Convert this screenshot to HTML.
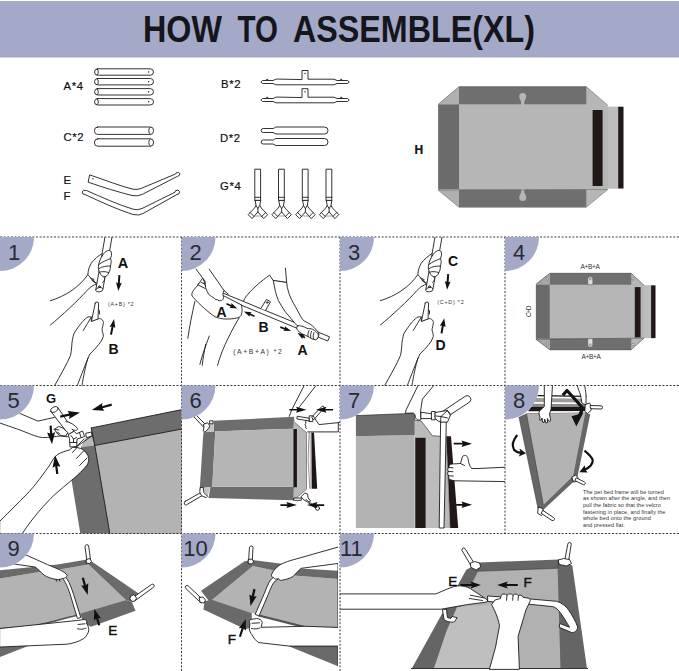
<!DOCTYPE html>
<html><head><meta charset="utf-8">
<title>How to assemble (XL)</title>
<style>
html,body{margin:0;padding:0;background:#fff;}
body{width:679px;height:671px;overflow:hidden;font-family:"Liberation Sans",sans-serif;}
svg{display:block}
text{font-family:"Liberation Sans",sans-serif;}
.ln{fill:none;stroke:#1c1c1c;stroke-width:0.9;stroke-linecap:round;stroke-linejoin:round}
.lw{fill:#fff;stroke:#1c1c1c;stroke-width:0.9;stroke-linecap:round;stroke-linejoin:round}
.dot{fill:none;stroke:#3a3a3a;stroke-width:1;stroke-dasharray:2 1.6}
.num{font-size:22px;fill:#2a2a33}
.lbl{font-size:13px;font-weight:bold;fill:#111}
.big{font-size:17px;font-weight:bold;fill:#111}
</style></head><body>
<svg width="679" height="671" viewBox="0 0 679 671">
<rect width="679" height="671" fill="#fff"/>
<!-- HEADER -->
<g id="header">
<rect x="0" y="1" width="679" height="56.5" fill="#a4a9c8"/>
<text y="41.800" font-size="36" font-weight="bold" fill="#15151c"><tspan x="143" textLength="79" lengthAdjust="spacingAndGlyphs">HOW</tspan><tspan x="237.500" textLength="40.500" lengthAdjust="spacingAndGlyphs">TO</tspan><tspan x="293" textLength="242" lengthAdjust="spacingAndGlyphs">ASSEMBLE(XL)</tspan></text>
</g>
<defs>
<clipPath id="c1"><rect x="0" y="237" width="181.5" height="148.5"/></clipPath>
<clipPath id="c2"><rect x="181.5" y="237" width="158.5" height="148.5"/></clipPath>
<clipPath id="c3"><rect x="340" y="237" width="165" height="148.5"/></clipPath>
<clipPath id="c4"><rect x="505" y="237" width="174" height="148.5"/></clipPath>
<clipPath id="c5"><rect x="0" y="385.5" width="181.5" height="148"/></clipPath>
<clipPath id="c6"><rect x="181.5" y="385.5" width="158.5" height="148"/></clipPath>
<clipPath id="c7"><rect x="340" y="385.5" width="165" height="148"/></clipPath>
<clipPath id="c8"><rect x="505" y="385.5" width="174" height="148"/></clipPath>
<clipPath id="c9"><rect x="0" y="533.5" width="181.5" height="137.5"/></clipPath>
<clipPath id="c10"><rect x="181.5" y="533.5" width="156.500" height="137.5"/></clipPath>
<clipPath id="c11"><rect x="340" y="533.5" width="339" height="137.5"/></clipPath>
</defs>

<g id="parts">
<g class="pt" font-size="11.300" fill="#111" stroke="#111" stroke-width=".2" letter-spacing=".6">
<text x="63.5" y="90.2">A*4</text>
<text x="63.5" y="141.3">C*2</text>
<text x="63.5" y="184.3">E</text>
<text x="63.5" y="200">F</text>
<text x="221" y="88.3">B*2</text>
<text x="220" y="141.8">D*2</text>
<text x="220" y="190">G*4</text>
<text x="414.5" y="154" font-weight="bold" font-size="12">H</text>
</g>
<!-- A tubes -->
<g class="lw">
<rect x="94.5" y="68.8" width="59" height="6.4" rx="3.2"/>
<rect x="94.5" y="78.5" width="59" height="6.4" rx="3.2"/>
<rect x="94.5" y="88.6" width="59" height="6.4" rx="3.2"/>
<rect x="94.5" y="98.6" width="59" height="6.4" rx="3.2"/>
<path d="M97 69a2 3.2 0 0 1 0 6M97 78.7a2 3.2 0 0 1 0 6M97 88.8a2 3.2 0 0 1 0 6M97 98.8a2 3.2 0 0 1 0 6" fill="none"/>
</g>
<g fill="#222"><circle cx="148.6" cy="72" r=".7"/><circle cx="148.6" cy="81.7" r=".7"/><circle cx="148.6" cy="91.8" r=".7"/><circle cx="148.6" cy="101.8" r=".7"/></g>
<!-- C tubes -->
<g class="lw">
<rect x="94.5" y="127" width="59" height="7.4" rx="3.2"/>
<rect x="94.5" y="138.8" width="59" height="7.4" rx="3.2"/>
<path d="M150.3 127.2a2 3.6 0 0 0 0 7M150.3 139a2 3.6 0 0 0 0 7" fill="none"/>
</g>
<!-- B -->
<g class="lw">
<path d="M302 79.2V70.5h6V79.2H334l3 1.3h10.5l1.7 1.5-1.7 1.5H337l-3 1.3H276l-3-1.3H262.5l-1.7-1.5 1.7-1.5H273l3-1.3z"/>
<path d="M302 97.2V88.7h6V97.2H334l3 1.3h10.5l1.7 1.5-1.7 1.5H337l-3 1.3H276l-3-1.3H262.5l-1.7-1.5 1.7-1.5H273l3-1.3z"/>
<path d="M266 80.5l1.2-1.6 1.2 1.6M340 80.5l1.2-1.6 1.2 1.6M266 98.500l1.200-1.600 1.200 1.600M340 98.500l1.200-1.600 1.200 1.600" fill="none"/>
</g>
<g fill="#222"><circle cx="305" cy="73.5" r=".7"/><circle cx="305" cy="91.700" r=".7"/></g>
<!-- D -->
<g class="lw">
<path d="M276 127H324.500a3.500 3.500 0 0 1 0 7H276l-3-1.500H263.200a2 2 0 0 1 0-4H273z"/>
<path d="M276 138.500H324.500a3.500 3.500 0 0 1 0 7H276l-3-1.500H263.200a2 2 0 0 1 0-4H273z"/>
</g>
<!-- E F -->
<g class="lw">
<path d="M90 175C105 180 120 186 133 189.200Q137 190 141 188.500L175.500 174l.5-1 2.500-.7 1.500 1.500-1 2-1.500.5L142.500 194.300Q137.500 196.800 132 195.500C118 192 103 187.300 88.500 182.300z"/>
<path d="M86.500 190.500C101 197 118 204.500 133 209.200Q137.500 210.500 142 208.500L175 192.200l.5-1.500 2.500-.7 1.700 1.700-1 2.300-1.700.5L143 213.500Q138.500 216 133 214.500C117 209.500 100 201.500 85 194.500l-2-.5-.8-2 1.300-1.700 2 .2z"/>
</g>
<circle cx="93" cy="178.800" r=".7" fill="#222"/>
<!-- G x4 -->
<g id="gpart" class="lw">
<path d="M255.2 169.200h5.400V200.700H255.200z"/>
<path d="M255.200 197.300h5.400" fill="none"/>
<path d="M255.200 200.700L256 205.500 254.500 208 248.200 214.700 252.100 218.600 257.900 211.900 263.700 218.600 267.600 214.700 261.300 208 259.800 205.500 260.600 200.700z"/>
<path d="M256 205.500L257.900 208.500 259.800 205.500M257.900 208.500V211.900M250.200 212.600L254.100 216.500M265.600 212.600L261.700 216.500" fill="none"/>
<path d="M255.500 216h5" stroke="#999" fill="none"/>
</g>
<use href="#gpart" x="23.700"/><use href="#gpart" x="47.500"/><use href="#gpart" x="71.200"/>
<!-- H -->
<g id="H">
<path d="M438.200 104.300L459 86.600H586.300L607.800 105.300V106.800H623.400V188.400H607.800V189.500L586.300 207.200H459L438.200 190.200z" fill="#b6b6b6"/>
<rect x="459" y="86.600" width="127.300" height="17.700" fill="#6f6f6f"/>
<rect x="459" y="189.500" width="127.300" height="17.700" fill="#6f6f6f"/>
<rect x="438.200" y="104.300" width="20.800" height="85.200" fill="#6b6b6b"/>
<path d="M438.200 104.300L459 86.600V104.300zM438.200 189.500L459 207.200V189.500z" fill="#b0b0b0"/>
<rect x="607.800" y="106.800" width="15.600" height="81.600" fill="#bdbdbd"/>
<rect x="592.600" y="110" width="10" height="76" fill="#231818"/>
<rect x="618.200" y="106.800" width="5.200" height="81.600" fill="#231818"/>
<path d="M519.200 96.500a3.500 3.600 0 0 1 7 0c0 2.800-2 4-2 6.500l.9 3.500h-4.800l.9-3.500c0-2.500-2-3.700-2-6.500z" fill="#b6b6b6"/>
<path d="M519.200 197.500a3.500 3.600 0 0 0 7 0c0-2.800-2-4-2-6.500l.9-3.500h-4.800l.9 3.500c0 2.500-2 3.700-2 6.500z" fill="#b6b6b6"/>
<path d="M438.200 104.300L459 86.600H586.300L607.800 105.300M607.800 189.500L586.300 207.200H459L438.200 190.200z" fill="none" stroke="#666" stroke-width=".5"/>
</g>
</g>
<!--P1-->
<g id="p1" clip-path="url(#c1)">
<g id="hands1">
<!-- upper arm lines + hand back -->
<path class="ln" d="M50.4 300.700C66 296 80 286.500 87.900 274.500"/>
<path class="ln" d="M50.400 325C62 315.500 78 300.500 87 290.500C90 287 93.500 284.800 96.600 284.300"/>
<path class="lw" d="M103 253C98.500 255.500 94 259.500 91.300 263.200C89 267 88 271 87.900 274.500C90 277.500 93.500 281 96.600 284.300L101 270z" stroke-width=".8"/>
<path class="ln" d="M90.500 278l3.500 1.500M91.500 279.800l3 1.500M93 281.500l2.500 1"/>
<!-- tube A -->
<path class="lw" d="M105.100 236.500L95.700 290.300A3.600 2 -8 0 0 102.900 289.300L112.100 236.500z"/>
<path class="ln" d="M95.900 289.600A3.600 2 -8 0 1 102.900 288.600"/>
<circle cx="99.400" cy="286.700" r=".9" class="ln"/>
<!-- fingers -->
<path class="lw" d="M102.500 255.500C105 250.500 110 249 111.300 252C112 254.500 111.200 256.500 110.500 258.500C111.600 261 111.200 264 110.300 266C110.600 269 109.800 271 108.800 272.500C108.300 275 106 277 103.500 276.800C101.500 276 99.800 273.500 99.300 271.500C98.200 269.500 98 266.500 98.800 264.500C99.200 261.500 100.500 258.500 102.500 255.500z"/>
<path class="ln" d="M98.800 264.500C102 262 107 260 110.500 258.500M99.200 268.500C102 266.300 107 266 110.300 266M99.600 272.200C102 271 106 271.800 108.800 272.500M104 276.800C105.500 279 104 281.500 102.500 282.500"/>
<!-- rod B -->
<path class="lw" d="M95.300 303L91.300 321.800L98 319.500L98.600 303A1.700 1.300 0 0 0 95.300 303z"/>
<path class="ln" d="M98.500 309.500l1 1.500v3"/>
<!-- lower hand -->
<path class="lw" d="M54.400 386C60 376 67 364 70.500 355.400C72 349 71.500 344 72.500 339.300C73 337 73.300 335.500 73.800 333.900C76 330 79 326 81.200 323.200C83 321 85 319 86.600 317.800C88.500 316.600 90 316.500 91.300 317.100L91.300 321.500L98 319C99.500 318 101.500 318.800 102 319.800C103.200 321 103.600 322 103.300 323.200C103 326 102.200 328 102 329.900C102.500 332 103.500 334.500 103.300 336.600C102 340 100.500 342.500 98.600 344.600C96 348 92.500 351.500 89.900 354C88 358 80 378 77.200 386z"/>
<path class="ln" d="M91.300 317.100C89 321 86 326 83.200 330.500M87.900 358C86 364 83.500 376 81.900 386"/>
</g>
<!-- labels -->
<text x="117.700" y="267.800" font-size="14.500" font-weight="bold" fill="#111">A</text>
<text x="108.600" y="354" font-size="14" font-weight="bold" fill="#111">B</text>
<text x="108" y="305.800" font-size="5.300" fill="#333" textLength="25.500">(A+B) *2</text>
<polygon fill="#111" points="118.4,275.1 117.8,283.3 116.0,282.3 118.3,291.0 121.8,282.7 119.8,283.4 120.4,275.3"/>
<polygon fill="#111" points="112.0,334.8 113.6,326.8 115.3,328.0 114.1,319.1 109.6,326.9 111.6,326.4 110.0,334.4"/>
</g>

<!--P2-->
<g id="p2" clip-path="url(#c2)">
<!-- left person leg/pants lines -->
<path class="ln" d="M194.900 301.300C192 314 189.500 327 187.800 338.300"/>
<path class="ln" d="M209.300 336C205.500 346 202 356 199.900 364.200M205.700 344.200C204 352 203 359 202.200 365.400"/>
<!-- right person leg -->
<path class="ln" d="M217.500 365.400C220 356 224 346.500 228.100 338.300C232 330 236 323 239 318"/>
<path class="ln" d="M242 304.900C243.500 300 246 296 248 294.200C253 288 262 280.500 269.600 275.100L273.400 280.800L286.700 282.700L285.400 268.200"/>
<!-- long rod -->
<path class="lw" d="M199 283.200L329.500 336.800L327.800 341L197.500 287z"/>
<path class="lw" d="M260.700 308.700L266.400 299.500L270.500 301.700L265.800 310"/>
<circle cx="267.200" cy="302.500" r=".8" class="ln"/>
<!-- thigh shape left -->
<path class="lw" d="M202.700 278.100C200.500 281 199 283.500 197.300 285.800C195 288.500 192.500 291 191.900 293.600C191.500 295.500 192.500 297 193.700 297.800C197 301.500 201 305.500 204.500 308.500C208 311.500 212 315 215.200 316.800C219 318.500 222.500 319 225.900 319C231 319.200 235.500 318.500 239 317.400C240.500 316.500 241.200 315.500 241.400 314.400C242.200 311.500 242.200 310 242 308.500L241.400 304.900L224 296L206 287z"/>
<path class="ln" d="M198.500 285.200l6.500 3.200M200.900 282.300l4.300 2"/>
<!-- left arm + hand -->
<path class="lw" d="M196.100 269.200L202.700 278.100C203.500 279.200 204.500 280 205 281.100C205.500 283.500 205.300 285.500 205.600 287.600C206.500 290 207.500 292.500 208.600 294.200C210.500 296 212.500 297.300 214.600 298.400L215.800 299.800L217.600 299.500L218.800 301L220.500 300.300L221.700 300.700C222.800 300 223.300 299 223.500 297.800C223.500 296.500 223 295 222.900 293.600C223 292.500 223.500 291.500 224.100 290.600L209.200 269.200" />
<path class="ln" d="M224.100 290.600L228.300 294.200"/>
<!-- right arm -->
<path class="lw" d="M273.400 280.800C274.500 288 276 295 278.400 300.500C280.500 304.500 283 308.500 285.400 311.900L295.500 323.900L297.400 325.800L306.900 329.600L310 334.500L316 339.500L318.300 337.500L319 334C318.500 332.500 318 331.700 317.100 330.900C315 328.500 313 326 310.700 324.500C307.500 322.500 304.500 321.500 302.500 319.500C300 315.500 297.500 310.500 295.500 306.800C292.500 302 290 297 288.600 292.200C287.500 289 287 286 286.700 282.700z"/>
<path class="lw" d="M297.400 325.800C300 325.200 304 326.500 306.900 328.300C309 329 311 328.300 312.500 329.300C315 330.500 317.500 332.500 318.300 334.800C318.800 337 317.500 339.500 315.500 339.700C313 339.700 310 338 308.200 336.500C305 335.500 300 333 297.800 330.500C296.500 329 296.300 327 297.400 325.800z"/>
<path class="ln" d="M309 330.500C308 332.500 307.500 334.500 308.200 336.500M311.500 331.300C310.500 333.500 310.300 335.500 310.800 337.600M314 332.500C313.200 334.500 313 336.500 313.500 338.700"/>
<!-- labels -->
<g font-weight="bold" fill="#111" font-size="14">
<text x="216.500" y="317">A</text>
<text x="258.500" y="331.500">B</text>
<text x="297.500" y="355.300">A</text>
</g>
<text x="233.300" y="354.300" font-size="6.800" fill="#333" textLength="48.500">(A+B+A) *2</text>
<polygon fill="#111" points="226.2,304.4 230.7,306.5 229.3,307.7 237.2,308.5 231.4,303.1 231.4,305.0 226.8,303.0"/>
<polygon fill="#111" points="254.8,315.5 250.3,313.5 251.7,312.2 243.8,311.5 249.7,316.8 249.7,314.9 254.2,316.9"/>
<polygon fill="#111" points="280.0,327.9 284.5,329.5 283.2,330.8 291.1,331.1 284.9,326.2 285.0,328.0 280.6,326.3"/>
<polygon fill="#111" points="305.4,337.1 303.5,335.8 305.0,334.8 297.4,332.8 302.3,339.0 302.6,337.2 304.6,338.5"/>
</g>

<!--P3-->
<g id="p3" clip-path="url(#c3)">
<use href="#hands1" x="330" y="0"/>
<text x="448" y="265.500" font-size="14" font-weight="bold" fill="#111">C</text>
<text x="435.500" y="350.400" font-size="14" font-weight="bold" fill="#111">D</text>
<text x="437.200" y="303.900" font-size="5.300" fill="#333" textLength="26.500">(C+D) *2</text>
<polygon fill="#111" points="447.2,274.0 446.6,282.1 444.8,281.1 447.1,289.8 450.6,281.5 448.6,282.2 449.2,274.2"/>
<polygon fill="#111" points="442.5,333.6 443.8,325.9 445.6,327.1 444.2,318.2 439.9,326.1 441.9,325.6 440.5,333.2"/>
</g>

<!--P4-->
<g id="p4" clip-path="url(#c4)">
<path d="M535.900 284.300L549.700 273.300H631.200L644.100 285.400H655.400V338.100H644.100L631.200 349.800H549.700L535.900 339.300z" fill="#b6b6b6"/>
<rect x="549.700" y="273.300" width="81.500" height="11.400" fill="#6f6f6f"/>
<rect x="549.700" y="338.600" width="81.500" height="11.200" fill="#6f6f6f"/>
<rect x="535.900" y="284.500" width="13.800" height="54.300" fill="#6b6b6b"/>
<path d="M535.900 284.500L549.700 273.300V284.500zM535.900 338.800L549.700 349.800V338.800z" fill="#a8a8a8"/>
<rect x="644.100" y="285.400" width="11.300" height="52.700" fill="#bdbdbd"/>
<rect x="634.800" y="287.100" width="5.800" height="50.300" fill="#231818"/>
<rect x="651.100" y="285.400" width="4.300" height="52.700" fill="#231818"/>
<path d="M535.900 284.300L549.700 273.300H631.200L644.100 285.400M644.100 338.100L631.200 349.800H549.700L535.900 339.300z" fill="none" stroke="#444" stroke-width=".6"/>
<g fill="#ddd" stroke="#555" stroke-width=".5">
<path d="M587.800 284.700V279a2.500 2.500 0 0 1 5 0V284.700z"/>
<path d="M587.800 338.600V344.800a2.500 2.500 0 0 0 5 0V338.600z"/>
<circle cx="590.300" cy="278.800" r="1"/><circle cx="590.300" cy="344.800" r="1"/>
<circle cx="547.300" cy="279" r="1.200"/><circle cx="547.300" cy="344" r="1.200"/>
<circle cx="633" cy="278.800" r="1.200"/><circle cx="633" cy="344.500" r="1.200"/>
<circle cx="540" cy="283.500" r="1"/><circle cx="540" cy="340" r="1"/>
</g>
<g font-size="6.500" fill="#333">
<text x="580.400" y="268.500" textLength="19.500">A+B+A</text>
<text x="581.400" y="358.800" textLength="19.500">A+B+A</text>
<text transform="translate(531.200 317) rotate(-90)" textLength="11.500">C+D</text>
</g>
</g>

<!--P5-->
<g id="p5" clip-path="url(#c5)">
<!-- bed -->
<path d="M91.300 427.900L182 409.600V534H80.400L71 477L81.100 447.200L85.600 438.200L91.500 436z" fill="#6d6d6d"/>
<path d="M94.800 445.500L182 429V534H109.900z" fill="#b3b3b3"/>
<path d="M91.500 435.500L94.800 445.500L81.100 447.200L85.600 438.200z" fill="#b8b8b8"/>
<path class="ln" d="M91.300 427.900L182 409.600M91.300 427.900L94.800 445.500L109.900 534M94.800 445.500L182 429" stroke-width=".6" stroke="#333"/>
<!-- upper arm lines -->
<path class="ln" d="M20 413.500L37.900 421.100L54.300 417.400"/>
<path class="ln" d="M0 423C8 426 16 428.500 20 430C28 433 36 437 42.400 437.500C49 437.800 56 436.300 60.200 436L68 436.800"/>
<!-- connector G -->
<path class="lw" d="M50.700 411.200L68.600 434.400L74 431.300L57.900 407.600A3.800 2.300 -25 0 0 50.700 411.200z"/>
<path class="ln" d="M50.900 411.400A3.800 2.300 -25 0 0 57.900 407.800"/>
<path class="lw" d="M65.900 421.500C70 422 75 425 77.600 428.600C78 430.500 75 431 72.200 429.500"/>
<path class="lw" d="M54.800 429l4-2.500 4 1.500 5 4.500-2 3.500-6-.5-3-2.500z"/>
<path class="ln" d="M54 429.200l5 .8M60 434l-3-2"/>
<path class="lw" d="M68.600 434.400L74 431.300L76.500 433.800L82.500 431L84.700 436.500L77 439L76.700 446.500L70 447L69.500 439z"/>
<path class="ln" d="M71 435.500l2.500 3.500 3-1.500M73.500 439v3M69.800 442.500h7M79.500 432.500l1.500 5"/>
<path class="lw" d="M86 433.200L91.500 432L92 436.300L86.800 437.500z" stroke-width=".6"/>
<path class="ln" d="M77 446.500L91 436.500M74 449l10-10"/>
<!-- lower hand/arm -->
<path class="lw" d="M0 521C10 511 19 502 26 495C35 486 44 473 49.800 465C52 461 54.500 457 57.300 454.600C61 452.500 65 451 69.200 450.100L72.500 447.500C76 447 80 448 82.600 449.400C85.500 451.500 88 454.500 88.600 457.600C89 460.500 88.200 463 87.100 465C83 470 78 475 73.700 478.500C67 484 60 490 54.300 495C46 503 33 517 22 534H0z"/>
<path class="ln" d="M76.500 458.500l7-7.500M79.500 465.500l7.500-7.500M72.500 452.500l5-5.500" stroke-width="1"/>
<!-- label + arrows -->
<text x="46" y="402.500" font-size="13" font-weight="bold" fill="#111">G</text>
<polygon fill="#111" points="60.4,417.7 69.6,415.8 69.1,418.9 80.0,412.5 67.4,411.0 69.2,413.6 60.0,415.5"/>
<polygon fill="#111" points="111.4,403.6 102.0,406.2 102.4,403.0 91.8,410.0 104.4,410.8 102.5,408.3 112.0,405.8"/>
<polygon fill="#111" points="49.5,425.7 50.1,433.6 47.1,432.6 52.0,444.3 55.1,432.0 52.3,433.4 51.7,425.5"/>
<polygon fill="#111" points="58.4,473.9 57.4,465.9 60.4,466.7 55.0,455.3 52.5,467.7 55.2,466.2 56.2,474.1"/>
</g>

<!--P6-->
<g id="p6" clip-path="url(#c6)">
<!-- arm lines upper right -->
<path class="ln" d="M304.400 385L291.900 409.500L289.300 416.300M316.400 385L298.200 408.500"/>
<!-- bed -->
<path d="M213.500 420.800L294.100 416.800L293.600 428.800L214 431.400z" fill="#6d6d6d"/>
<path d="M210.500 486.800H294.100L293.600 500.300L208.500 498z" fill="#6d6d6d"/>
<path d="M203.400 432.300L215.300 431.200L212.300 486.800L199.800 488.400z" fill="#6d6d6d"/>
<path d="M215.300 431.200L293.600 428.800V486.800H212.300z" fill="#b5b5b5"/>
<path d="M205.700 424.500L213.500 421.500L214 431.400L204.500 432.200z" fill="#c4c4c4"/>
<path d="M202.300 487.800L210.200 487L207.500 497z" fill="#c4c4c4"/>
<rect x="293.400" y="428.800" width="3.700" height="58.800" fill="#1e1616"/>
<path d="M294.100 416.800L295 422.600L306.500 432.500V489.200L294.500 499.500L293.600 500.300V487.600H296.900V428.800H293.600z" fill="#b9b9b9"/>
<path d="M295 422.600L306.500 432.500V489.200L294.500 499.500" fill="none" stroke="#333" stroke-width=".5"/>
<!-- outer flap -->
<path d="M309.400 432.500L312.200 432.500L311.800 488.700H310z" fill="#c8c8c8"/>
<path d="M309.100 432.500L308.100 460L309.800 488.700" fill="none" stroke="#333" stroke-width=".5"/>
<path d="M311.500 432.500H314L317.200 488.700H311.800z" fill="#1e1616"/>
<!-- connectors -->
<g class="lw" stroke-width=".6">
<path d="M194.200 416.500L196 415L206 425L204 427z"/>
<path d="M203.500 424.500l4-1.800 2.200 3-1 2.700-3.700 3.800-1.800-1.300.8-4z"/>
<path d="M210 420.800h3v3h-3z"/>
<path d="M185 501.500L200.800 492.500L202.300 495.500L186.500 504.800A1.500 1.900 0 0 1 185 501.500z"/>
<path d="M200.500 487.500l2.500-.3 1 5.500 3.500 3.500-1.500 1.500-4.500-2-1.500-3z"/>
<path d="M297.600 416.300L309.600 418.300L309.300 421L297.300 419z"/>
<path d="M309.600 415.800h3.200v5.800h-3.200z"/>
<path d="M311.800 417L322 406.300A1.500 1.200 0 0 1 324 408L314 419.500z"/>
<path d="M294 498h7.300v2.300H294z"/>
<path d="M301.300 496.500l3.500-3.500 2.800 1 .5 4 2.500 3-2 1.500-4.500-2.500z"/>
<path d="M306 499.500L316 507.500A1.700 1.700 0 0 1 318 510L308 502.500"/>
<circle cx="317.500" cy="508.300" r="2"/>
</g>
<path class="ln" d="M306.500 420.500c-1.500 1-1.500 2-.3 2.500-1.500 1-1.500 2.500 0 3-1.200 1-1 2 .3 2.500" stroke-width=".6"/>
<!-- hand right -->
<path class="ln" d="M313.300 416.300L319 424.600C326 424 333 423 340 422.500M307.600 431.900H338.300V422.700"/>
<!-- arrows -->
<polygon fill="#111" points="289.3,410.6 297.1,410.6 296.0,412.8 306.5,409.8 296.0,406.8 297.1,409.0 289.3,409.0"/>
<polygon fill="#111" points="333.1,408.9 325.3,408.9 326.4,406.7 315.9,409.8 326.4,412.7 325.4,410.5 333.1,410.5"/>
<polygon fill="#111" points="280.4,505.9 287.4,505.9 286.4,508.1 296.9,505.1 286.4,502.1 287.4,504.3 280.4,504.3"/>
<polygon fill="#111" points="324.2,504.3 316.4,504.3 317.5,502.1 307.0,505.1 317.5,508.1 316.4,505.9 324.2,505.9"/>
</g>

<!--P7-->
<g id="p7" clip-path="url(#c7)">
<!-- main bed -->
<path d="M355.900 436.300L414.600 435.100V528H355.900z" fill="#b3b3b3"/>
<path d="M414.600 420.300L421.200 420.900L432.400 435.700L440.600 436.300V528H414.600z" fill="#bcbcbc"/>
<path d="M355.900 415.600L413.300 413.300L414.700 414.200V435.100L355.900 436.300z" fill="#6d6d6d"/>
<path d="M355.900 415.600L413.300 413.300L414.700 414.200V420.300L421.200 420.900L432.400 435.700L440.600 436.300" fill="none" stroke="#222" stroke-width=".6"/>
<rect x="415.300" y="437.800" width="10.300" height="90.200" fill="#231818"/>
<!-- outer flap black -->
<path d="M446.300 436.200H451L458.200 528H450.200z" fill="#231818"/>
<path d="M445 436.200H446.300L450.200 528H443.500z" fill="#b9b9b9"/><path d="M446.300 436.200L450.200 528" stroke="#444" stroke-width=".5" fill="none"/>
<!-- vertical pole -->
<path class="lw" d="M440.600 422.100L439.200 528H444L446.300 422.100z" stroke-width=".7"/>
<!-- upper hand -->
<path class="lw" d="M418.300 385L405.900 410.300L405.500 413.300L413.300 413L414.700 414.200L415.500 417.500C416.500 420 419.500 420.800 421.200 419.200L420.600 410.900L422.400 399.100L434.200 385z" stroke-width=".7"/>
<!-- connector -->
<g class="lw" stroke-width=".7">
<path d="M421.200 412.300L432.400 413.900V418.600H421.200z"/>
<path d="M431.800 411.500h3.500v8.300h-3.500z"/>
<path d="M440.600 412.700L465.400 396.200A3.600 3.600 0 0 1 469.500 402.100L450.700 414.500z"/>
<path d="M435.300 412.500L441 411.500L447.500 410.500L450.700 414.500L447.500 422.100H440.600L438 421L435.300 418.500z"/>
<path d="M436 416l5 .5 6.500-6M441 416.500l-.4 5.600M441 416.500l6.500 1.500M447.100 410.300l3 4.500" fill="none"/>
</g>
<!-- right hand thumbs -->
<path class="lw" d="M506 467.200L478 468.500L471.500 468.500C469.500 466 468.500 462 468 458.500C467.500 455 463.500 454.300 462.300 457L460.500 463.500L452 464C449.500 464.200 448.500 466 449 467.500C447.500 468.500 447.500 470.500 448.500 471.500C447.300 472.800 447.500 475 448.800 475.800C448 477.500 449 479.500 451 480L454.900 480.800L506 481.600z" stroke-width=".7"/>
<path class="ln" d="M449 467.500l4 .3M448.500 471.500l4.500.2M448.800 475.800l4.500.2M460.500 463.500l4 2" stroke-width=".6"/>
<!-- arrows -->
<polygon fill="#111" points="453.7,444.6 462.6,444.6 461.5,446.9 472.0,443.7 461.5,440.4 462.6,442.8 453.7,442.8"/>
<polygon fill="#111" points="456.1,505.7 462.6,505.7 461.5,508.1 472.0,504.8 461.5,501.6 462.6,503.9 456.1,503.9"/>
</g>

<!--P8-->
<g id="p8" clip-path="url(#c8)">
<!-- top rails -->
<path d="M537.500 395.600L586.500 396.300" stroke="#1c1616" stroke-width="1.200" fill="none"/>
<path d="M535.500 398L585.500 398.700L585.800 402.500L533.500 402z" fill="#9c9c9c"/>
<path d="M533 403.800L585.800 404.300L586 407L531.500 406.700z" fill="#8a8a8a"/>
<path d="M531.500 406.700L586 407L586 411L528 411.200z" fill="#1c1616"/>
<!-- main bed -->
<path d="M518.900 417L527 413.300L585.300 412.500L590.200 414.500L577.100 478.400L541.500 511.500L538 508.500z" fill="#666"/>
<path d="M526.500 413.800L585.300 412.800L573.200 476L543.400 505z" fill="#b3b3b3"/>
<path d="M518.900 417L538 508.500M526.500 413.800L543.400 505" stroke="#333" stroke-width=".5" fill="none"/>
<!-- arms -->
<path class="lw" d="M544.300 385L544.300 406.500L539.500 411C538.500 413 539 415 540 416.500L539.700 420L541.300 420.200L542 418L542.600 422.300L544.300 422.300L544.600 419L546 423L547.600 422.500L547.300 418.500L549.300 421.500L550.700 420.500L549.500 414L551 409.500L552.500 385z" stroke-width=".7"/>
<path class="lw" d="M577.100 385C578 389 579.500 392 580.500 395L582 403.500L586.100 404.700L586 395C585.800 391 585 388 584.500 385z" stroke-width=".7"/>
<!-- connectors -->
<g class="lw" stroke-width=".6">
<path d="M585.500 404.500l4-1.500 2 3.500-.5 4-3.500 3-2.500-2z"/>
<path d="M590.500 405.500L601 405.800A1.500 1.500 0 0 1 601 409L591 408.700z"/>
<path d="M572 477l3.500-2 2.500 2.500-.5 3.500-3.500 1z"/>
<path d="M576.500 478L584.500 482A1.400 1.400 0 0 1 583.300 484.600L575.300 480.800z"/>
<path d="M538.500 507l4 1.500 1.500 4-2.500 3-3.500-2z"/>
<path d="M543 510.500L553.500 517.500A1.600 1.600 0 0 1 552 520.500L541.500 513.500z"/>
</g>
<!-- big arrow -->
<path d="M562.800 395.300L567 390.500L583 408.300L579.500 415.500" fill="none" stroke="#151212" stroke-width="3.200" stroke-linejoin="round"/>
<path d="M571.500 416.300L583.200 413L576.300 426.500z" fill="#151212"/>
<!-- side curved arrows -->
<path d="M517.300 435C513 440 511.500 445 514 449.800C516 452 519 452.800 521.500 452.800" fill="none" stroke="#151212" stroke-width="2.200"/>
<path d="M519.500 448.500L526 453.200L518.800 456.500L520.500 452.600z" fill="#151212"/>
<path d="M584.500 450.600C588 453.500 591.500 456.500 592.700 460C593 464 589.500 467.500 584.500 469.800" fill="none" stroke="#151212" stroke-width="2.200"/>
<path d="M584.800 465.200L579.300 472.300L587.600 472.500L585.300 469.500z" fill="#151212"/>
<!-- text -->
<g font-size="5.500" fill="#333">
<text x="583" y="493.500" textLength="80.800">The pet bed frame will be turned</text>
<text x="583" y="500.300" textLength="87">as shown after the angle, and then</text>
<text x="583" y="507.100" textLength="77.800">pull the fabric so that the velcro</text>
<text x="583" y="513.900" textLength="82.400">fastening in place, and finally the</text>
<text x="583" y="520.200" textLength="67.800">whole bed onto the ground</text>
<text x="583" y="526.900" textLength="41.800">and pressed flat.</text>
</g>
</g>

<!--P9-->
<g id="p9" clip-path="url(#c9)">
<!-- bed surface -->
<path d="M0 578.500L39.300 572L63.900 568.700L88.500 564.600L126 600L80.400 613.800L68.900 616.200L54.100 620.300L32.800 625.200L0 627.700z" fill="#b3b3b3"/>
<path d="M0 570.300L32.800 567L57.400 564.600L85.800 559.800L88.500 564.600L63.900 568.700L39.300 572L0 578.500z" fill="#6a6a6a"/>
<path d="M85.800 559.800L92.500 562L139 593.800L131.800 601.800L126 600L88.500 564.600z" fill="#6a6a6a"/>
<path d="M80.400 613.400L126 600L131.800 601.800L135.500 610.700L91.100 626.800L83.100 623z" fill="#6a6a6a"/>
<path d="M0 627.700L32.800 625.200L54.100 620.300L68.900 616.200L80.400 613.800L80.800 615.300L69 618L54.500 622L33 627L0 629.500z" fill="#555"/>
<path d="M0 646.500L30 645.300L0 657z" fill="#6a6a6a"/>
<!-- connectors -->
<g class="lw" stroke-width=".6">
<path d="M85 546.500A1.900 1.900 0 0 1 88.700 546L90.700 561L87.500 562z"/>
<path d="M133 597.500L151.500 584.500A1.700 1.700 0 0 1 153.500 587.300L135.300 600.500z"/>
<path d="M131 596l3-1.500 2.500 3.500-1.500 3-3 .5-2-2.500z"/>
<path d="M86.500 559.500l3.500-1 1.500 3-2 2-3-.5z"/>
</g>
<!-- lower hand -->
<path class="lw" d="M0 628.500L78.700 620.300L84 619.500C86.500 619.800 87.500 621.500 86.500 623L88 626C89 628.500 88.800 631 88.400 632C87 635.500 85 638 83.100 638.900C78 642 72 643.500 67 644.200L0 647z" stroke-width=".7"/>
<path class="ln" d="M78 624.500l7-.7M77.500 628.800c3 .8 6 .5 8.500-.6" stroke-width=".9"/>
<!-- curved tube E -->
<path class="lw" d="M55 575.500C59 576.500 62 577.500 63.500 579.500C66 583 68.500 589 70.700 596.200L77.400 618.500L80.800 617.500L73.700 594.700C71.500 588 69.500 583 67.700 580C66 577 63 574.500 58 573z" stroke-width=".7"/>
<!-- upper arm -->
<path class="lw" d="M8 547L47.500 564.600C52 566.500 57 568.500 60.700 570.300C64 572 66 573.500 67.200 575.200C66.500 577.500 64.500 578.800 62.300 578.500C60 579.800 57.500 579.800 55.700 579.300C51 578.500 47 577 44.300 575.200C41 572.500 38 569 35.200 567L18 564.600L4 562z" stroke-width=".7"/>
<path class="ln" d="M55.700 579.300l1 2M59 579.300l1 2" stroke-width=".6"/>
<!-- labels -->
<text x="108.300" y="634.500" font-size="13.500" fill="#111" stroke="#111" stroke-width=".45">E</text>
<polygon fill="#111" points="81.7,578.0 83.9,585.7 81.1,585.3 87.7,594.9 88.3,583.3 86.0,585.1 83.9,577.4"/>
<polygon fill="#111" points="100.3,624.9 98.2,618.1 101.1,618.4 94.3,608.9 93.9,620.5 96.1,618.7 98.1,625.5"/>
</g>

<!--P10-->
<g id="p10" clip-path="url(#c10)">
<!-- bed -->
<path d="M252.900 566L275.300 570.700L294.100 575.400L340 579.200V627.500L305.900 626.100L258.800 614.300L251.700 613.100L211.600 600.200z" fill="#b3b3b3"/>
<path d="M252.900 560.100L280 563.600L296.500 568.300L340 570.800V579.200L294.100 575.400L275.300 570.700L252.900 566z" fill="#6a6a6a"/>
<path d="M244.600 561.300L252.900 560.100L252.900 566L211.600 600.200L209.300 601.500L201 590.700z" fill="#6a6a6a"/>
<path d="M204.600 601.300L211.600 599.700L251.700 613.100L252.200 627.300L245.500 629.300L203.400 609.500z" fill="#6a6a6a"/>
<path d="M258.800 614.300L305.900 626.100L340 627.500V630L305.500 628.500L258.500 616.500z" fill="#555"/>
<path d="M288.200 646.100H340V667z" fill="#6a6a6a"/>
<path d="M337.700 547V666" stroke="#333" stroke-width=".6" fill="none"/>
<!-- connectors -->
<g class="lw" stroke-width=".6">
<path d="M249.500 547.300A1.800 1.800 0 0 1 253 547.300L252.300 561L249 561z"/>
<path d="M248.500 559.500l3.500-.5 1.500 2.500-1.500 2.500-3.500-.5z"/>
<path d="M185.800 588.500A1.700 1.700 0 0 1 188.300 586L203.300 600L201 602.300z"/>
<path d="M199.500 597.500l3.500-.5 2.500 3-1.500 3-3.500-.5z"/>
</g>
<!-- lower hand -->
<path class="lw" d="M340 627.500L305.900 626.300L261.100 627.300L262.300 622.500C262 620 259 618.500 256.500 618.500L250.500 619.500C249 621 249.300 622.500 250 623.500L249.300 628C249.500 631 250.500 633 251.700 634.300C253.500 638 256 641 258.800 642.600L289.400 646.100H340z" stroke-width=".7"/>
<path class="ln" d="M252 623.300l7.500-.5M251.500 628.500c3 .8 6 .5 8.500-.6" stroke-width=".9"/>
<!-- tube F -->
<path class="lw" d="M283 574C277 575.500 272.500 577.500 270.500 580C268 584 266 589 264.300 593.500L255.200 614.300L259 616L268.200 594.500C270 590 271.500 586 273.500 583C275.500 580 279 578 284 577z" stroke-width=".7"/>
<!-- upper arm -->
<path class="lw" d="M340 546.500L296.500 558.900C290 560.500 284 562.500 280 564.800C276 567.500 273 571 271.700 574.200C271 576 272 577.500 273.500 577.500C274.500 579.500 277 579.500 278.300 578.500C279.500 580.500 281.500 580.800 282.300 580.100C286 579.500 290 578.300 292.900 576.600C296 573.500 298.500 570.500 301.200 568.300L340 563.200z" stroke-width=".7"/>
<!-- label -->
<text x="227.800" y="643.800" font-size="13.500" fill="#111" stroke="#111" stroke-width=".45">F</text>
<polygon fill="#111" points="253.4,588.8 251.7,596.1 249.4,594.4 250.5,606.0 256.7,596.2 253.9,596.6 255.6,589.4"/>
<polygon fill="#111" points="240.9,637.0 243.7,628.7 245.9,630.6 245.8,619.0 238.8,628.2 241.6,628.0 238.9,636.4"/>
</g>

<!--P11-->
<g id="p11" clip-path="url(#c11)">
<!-- bed -->
<path d="M479.500 562.500L559.100 559.500L572.300 565.400L587 668.500H411.800L466.300 569.800z" fill="#656565"/>
<path d="M478.100 571.300L557.600 568.300L560.500 668.500H433.900L458.900 609.600z" fill="#b1b1b1"/>
<path d="M457.100 607.100L491.600 604.500L499.500 625.700L494.200 649.500L488.900 668.500H433.900L446.500 631z" fill="#bfbfbf"/>
<path d="M479.500 562.500L478.100 571.300L557.600 568.300L559.100 559.500" fill="none" stroke="#333" stroke-width=".5"/>
<path d="M411 668.500H588" stroke="#333" stroke-width="1" fill="none"/>
<!-- top connectors -->
<g class="lw" stroke-width=".6">
<path d="M462 550.300A1.800 1.800 0 0 1 465 548.500L474 563L471 565z"/>
<path d="M470.700 563l4-1.500 5 1.500 1 4-4.500 3-5-2.500z"/>
<path d="M567.800 544A1.700 1.700 0 0 1 571.200 544.300L568.500 561.500L565 561z"/>
<path d="M558.500 560l5-1.500 6 1 2 4-5 2.500-7-1.500z"/>
</g>
<!-- hooks -->
<path class="lw" d="M442.500 609.800L443.900 619C445 621.500 452 623 454.500 621.700L457.100 617.700L452.500 616.500L450.500 618.500L447.500 617.500L446.500 609.500z" stroke-width=".7"/>
<!-- bar -->
<path class="lw" d="M488 596L526 598.600L556.500 601.300C561 602.500 565.500 605.500 568.500 609.800C572 615 575.500 621 577.700 627C577.500 630.500 574.500 633 571.500 632.500L559.200 627.300L559.800 623.500L569.500 627.300C566.500 622 563.500 617 560.500 613C558 609.500 555.500 607.200 552.600 606.600L526 603.900L488 601.500z" stroke-width=".7"/>
<!-- right hand from bottom -->
<path class="lw" d="M489.500 669L495.600 646.900L499.500 625.700C498 617 494 609 491.600 604.500L495 600L500.500 598.500L501 595.500C502.500 593.500 505.500 593.500 507 595.300C508.500 593.500 511.500 593.300 513 595.300C514.500 593.500 517.500 593.700 518.500 595.800C520 594.500 522.500 595 523 597.300L527 598C529.500 598 531 599.500 530 601.500L526 609.800L518.100 636.300L519.400 669z" stroke-width=".7"/>
<path class="ln" d="M507 595.300l-.5 5M513 595.300l-.3 5M518.500 595.800l-.5 4.500" stroke-width=".6"/>
<!-- left hand -->
<path class="lw" d="M340 593.900H435.900C444 590.500 451 587 457.100 585.900C462 585.500 466.500 586.500 470.400 588.600L486.300 599.200L488 601L485 602.300L467.700 604.500L441.200 609.200H340z" stroke-width=".7"/>
<path class="ln" d="M470.400 595.200L483.600 597.800M469.500 598.500l13 2" stroke-width=".6"/>
<!-- labels -->
<text x="448.300" y="585.500" font-size="13.500" fill="#111" stroke="#111" stroke-width=".45">E</text>
<text x="523.500" y="586.500" font-size="13.500" fill="#111" stroke="#111" stroke-width=".45">F</text>
<polygon fill="#111" points="460.4,586.1 471.6,586.1 470.5,588.6 481.0,585.1 470.5,581.6 471.6,584.1 460.4,584.1"/>
<polygon fill="#111" points="517.8,584.1 506.6,584.1 507.7,581.6 497.2,585.1 507.7,588.6 506.6,586.1 517.8,586.1"/>
</g>

<!-- GRID -->
<g id="grid">
<path class="dot" d="M0 237H679M0 385.5H679M0 533.5H679M181.5 237V671M340 237V671M505 237V533.5"/>
</g>
<!-- NUMBER BADGES -->
<g id="badges" fill="#a4a9c8">
<path d="M0 237h34a34 34 0 0 1-34 34z"/>
<path d="M181.5 237h34a34 34 0 0 1-34 34z"/>
<path d="M340 237h34a34 34 0 0 1-34 34z"/>
<path d="M505 237h34a34 34 0 0 1-34 34z"/>
<path d="M0 385.5h34a34 34 0 0 1-34 34z"/>
<path d="M181.5 385.5h34a34 34 0 0 1-34 34z"/>
<path d="M340 385.5h34a34 34 0 0 1-34 34z"/>
<path d="M505 385.5h34a34 34 0 0 1-34 34z"/>
<path d="M0 533.5h34a34 34 0 0 1-34 34z"/>
<path d="M181.5 533.5h34a34 34 0 0 1-34 34z"/>
<path d="M340 533.5h34a34 34 0 0 1-34 34z"/>
</g>
<g id="nums" class="num">
<text x="8" y="260">1</text>
<text x="189.500" y="260">2</text>
<text x="348" y="260">3</text>
<text x="513" y="260">4</text>
<text x="7.500" y="408">5</text>
<text x="189.500" y="408">6</text>
<text x="348" y="408">7</text>
<text x="513" y="408">8</text>
<text x="7.500" y="556">9</text>
<text x="183.300" y="556">10</text>
<text x="340" y="556">11</text>
</g>

</svg>
</body></html>
